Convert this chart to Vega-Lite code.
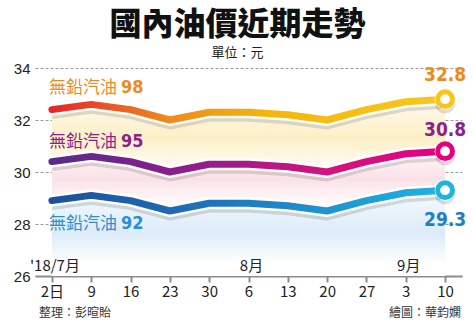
{
  "$schema": "https://vega.github.io/schema/vega-lite/v6.json",
  "width": 427,
  "height": 208,
  "autosize": {"type": "none"},
  "padding": {"left": 35, "top": 68, "right": 12, "bottom": 48},
  "background": "#ffffff",
  "title": {
    "text": "國內油價近期走勢",
    "subtitle": "單位：元",
    "anchor": "middle",
    "frame": "group",
    "dx": -11,
    "offset": 0,
    "font": "Noto Sans CJK TC",
    "fontSize": 32,
    "fontWeight": 900,
    "color": "#111111",
    "subtitleFont": "Noto Sans CJK TC",
    "subtitleFontSize": 13,
    "subtitleColor": "#222222",
    "subtitlePadding": 5
  },
  "config": {
    "view": {"stroke": null},
    "text": {"font": "Noto Sans CJK TC"}
  },
  "datasets": {
    "prices": [
      {"d": "7/2", "series": "98", "v": 32.4}, {"d": "7/9", "series": "98", "v": 32.6}, {"d": "7/16", "series": "98", "v": 32.4}, {"d": "7/23", "series": "98", "v": 32.0}, {"d": "7/30", "series": "98", "v": 32.3}, {"d": "8/6", "series": "98", "v": 32.3}, {"d": "8/13", "series": "98", "v": 32.2}, {"d": "8/20", "series": "98", "v": 32.0}, {"d": "8/27", "series": "98", "v": 32.4}, {"d": "9/3", "series": "98", "v": 32.7}, {"d": "9/10", "series": "98", "v": 32.8},
      {"d": "7/2", "series": "95", "v": 30.4}, {"d": "7/9", "series": "95", "v": 30.6}, {"d": "7/16", "series": "95", "v": 30.4}, {"d": "7/23", "series": "95", "v": 30.0}, {"d": "7/30", "series": "95", "v": 30.3}, {"d": "8/6", "series": "95", "v": 30.3}, {"d": "8/13", "series": "95", "v": 30.2}, {"d": "8/20", "series": "95", "v": 30.0}, {"d": "8/27", "series": "95", "v": 30.4}, {"d": "9/3", "series": "95", "v": 30.7}, {"d": "9/10", "series": "95", "v": 30.8},
      {"d": "7/2", "series": "92", "v": 28.9}, {"d": "7/9", "series": "92", "v": 29.1}, {"d": "7/16", "series": "92", "v": 28.9}, {"d": "7/23", "series": "92", "v": 28.5}, {"d": "7/30", "series": "92", "v": 28.8}, {"d": "8/6", "series": "92", "v": 28.8}, {"d": "8/13", "series": "92", "v": 28.7}, {"d": "8/20", "series": "92", "v": 28.5}, {"d": "8/27", "series": "92", "v": 28.9}, {"d": "9/3", "series": "92", "v": 29.2}, {"d": "9/10", "series": "92", "v": 29.3}
    ],
    "months": [
      {"d": "7/2", "m": "'18/7月"},
      {"d": "8/6", "m": "8月"},
      {"d": "9/3", "m": "9月"}
    ]
  },
  "data": {"name": "prices"},
  "encoding": {
    "x": {
      "field": "d",
      "type": "ordinal",
      "sort": ["7/2", "7/9", "7/16", "7/23", "7/30", "8/6", "8/13", "8/20", "8/27", "9/3", "9/10"],
      "scale": {"type": "point", "padding": 0.43},
      "axis": {
        "title": null,
        "domainColor": "#8c8c8c",
        "domainWidth": 2,
        "tickColor": "#8c8c8c",
        "tickWidth": 2,
        "tickSize": 6,
        "labelAngle": 0,
        "labelFont": "Noto Sans CJK TC",
        "labelFontSize": 15,
        "labelColor": "#222222",
        "labelPadding": 2,
        "labelExpr": "datum.value == '7/2' ? '2日' : split(datum.value, '/')[1]"
      }
    }
  },
  "layer": [
    {
      "transform": [{"filter": "datum.series == '98'"}],
      "mark": {"type": "area", "color": {"gradient": "linear", "x1": 0, "y1": 0, "x2": 0, "y2": 1, "stops": [{"offset": 0, "color": "#fffaf0"}, {"offset": 0.22, "color": "#fcefc6"}, {"offset": 0.42, "color": "#ffffff"}]}},
      "encoding": {
        "y": {"field": "v", "type": "quantitative", "scale": {"domain": [26, 34], "nice": false, "zero": false},
          "axis": {"title": null, "values": [26, 28, 30, 32, 34], "domain": false, "ticks": false, "grid": true, "gridDash": [3, 2], "gridColor": "#9a9a9a", "gridWidth": 1, "labelFont": "Liberation Sans", "labelFontSize": 15, "labelColor": "#222222", "labelPadding": 5}},
        "y2": {"datum": 26}
      }
    },
    {
      "transform": [{"filter": "datum.series == '95'"}],
      "mark": {"type": "area", "color": {"gradient": "linear", "x1": 0, "y1": 0, "x2": 0, "y2": 1, "stops": [{"offset": 0, "color": "#fff8fa"}, {"offset": 0.22, "color": "#fae1e7"}, {"offset": 0.45, "color": "#ffffff"}]}},
      "encoding": {"y": {"field": "v", "type": "quantitative"}, "y2": {"datum": 26}}
    },
    {
      "transform": [{"filter": "datum.series == '92'"}],
      "mark": {"type": "area", "color": {"gradient": "linear", "x1": 0, "y1": 0, "x2": 0, "y2": 1, "stops": [{"offset": 0, "color": "#f6fbff"}, {"offset": 0.5, "color": "#dcebf8"}, {"offset": 0.86, "color": "#ffffff"}]}},
      "encoding": {"y": {"field": "v", "type": "quantitative"}, "y2": {"datum": 26}}
    },
    {
      "mark": {"type": "line", "color": "#000000", "opacity": 0.13, "strokeWidth": 9, "yOffset": 5, "strokeJoin": "round"},
      "encoding": {"y": {"field": "v", "type": "quantitative"}, "detail": {"field": "series"}}
    },
    {
      "mark": {"type": "line", "color": "#ffffff", "strokeWidth": 12, "strokeJoin": "round", "strokeCap": "round"},
      "encoding": {"y": {"field": "v", "type": "quantitative"}, "detail": {"field": "series"}}
    },
    {
      "transform": [{"filter": "datum.series == '98'"}],
      "mark": {"type": "line", "strokeWidth": 7, "strokeJoin": "round", "strokeCap": "round", "color": {"gradient": "linear", "x1": 0, "y1": 0, "x2": 1, "y2": 0, "stops": [{"offset": 0, "color": "#e5262c"}, {"offset": 0.3, "color": "#f08a1c"}, {"offset": 0.55, "color": "#f6b50a"}, {"offset": 1, "color": "#f8c81c"}]}},
      "encoding": {"y": {"field": "v", "type": "quantitative"}}
    },
    {
      "transform": [{"filter": "datum.series == '95'"}],
      "mark": {"type": "line", "strokeWidth": 7, "strokeJoin": "round", "strokeCap": "round", "color": {"gradient": "linear", "x1": 0, "y1": 0, "x2": 1, "y2": 0, "stops": [{"offset": 0, "color": "#5a2a88"}, {"offset": 0.4, "color": "#961c8c"}, {"offset": 0.7, "color": "#d4137f"}, {"offset": 1, "color": "#e5007f"}]}},
      "encoding": {"y": {"field": "v", "type": "quantitative"}}
    },
    {
      "transform": [{"filter": "datum.series == '92'"}],
      "mark": {"type": "line", "strokeWidth": 7, "strokeJoin": "round", "strokeCap": "round", "color": {"gradient": "linear", "x1": 0, "y1": 0, "x2": 1, "y2": 0, "stops": [{"offset": 0, "color": "#1d4f9c"}, {"offset": 0.4, "color": "#1f72bd"}, {"offset": 1, "color": "#1fb5e3"}]}},
      "encoding": {"y": {"field": "v", "type": "quantitative"}}
    },
    {
      "transform": [{"filter": "datum.d == '9/10'"}],
      "mark": {"type": "point", "shape": "circle", "filled": true, "color": "#000000", "opacity": 0.13, "size": 420, "yOffset": 4},
      "encoding": {"y": {"field": "v", "type": "quantitative"}}
    },
    {
      "transform": [{"filter": "datum.d == '9/10'"}],
      "mark": {"type": "point", "shape": "circle", "filled": true, "color": "#ffffff", "opacity": 1, "size": 440},
      "encoding": {"y": {"field": "v", "type": "quantitative"}}
    },
    {
      "transform": [{"filter": "datum.d == '9/10'"}],
      "mark": {"type": "point", "shape": "circle", "filled": false, "fill": "#ffffff", "fillOpacity": 1, "opacity": 1, "strokeWidth": 5, "size": 220},
      "encoding": {
        "y": {"field": "v", "type": "quantitative"},
        "stroke": {"field": "series", "type": "nominal", "scale": {"domain": ["98", "95", "92"], "range": ["#f8c61a", "#e5007f", "#1fb3e2"]}, "legend": null}
      }
    },
    {
      "transform": [{"filter": "datum.d == '7/2' && datum.series == '98'"}],
      "mark": {"type": "text", "align": "left", "baseline": "middle", "dx": -3, "dy": -22, "fontSize": 17, "font": "Noto Sans CJK TC", "text": "無鉛汽油", "color": "#f08a1c"},
      "encoding": {"y": {"field": "v", "type": "quantitative"}}
    },
    {
      "transform": [{"filter": "datum.d == '7/2' && datum.series == '98'"}],
      "mark": {"type": "text", "align": "left", "baseline": "middle", "dx": 69, "dy": -22, "fontSize": 18, "fontWeight": "bold", "font": "DejaVu Sans Condensed", "color": "#f08a1c"},
      "encoding": {"y": {"field": "v", "type": "quantitative"}, "text": {"field": "series"}}
    },
    {
      "transform": [{"filter": "datum.d == '7/2' && datum.series == '95'"}],
      "mark": {"type": "text", "align": "left", "baseline": "middle", "dx": -3, "dy": -20, "fontSize": 17, "font": "Noto Sans CJK TC", "text": "無鉛汽油", "color": "#8e1f8e"},
      "encoding": {"y": {"field": "v", "type": "quantitative"}}
    },
    {
      "transform": [{"filter": "datum.d == '7/2' && datum.series == '95'"}],
      "mark": {"type": "text", "align": "left", "baseline": "middle", "dx": 69, "dy": -20, "fontSize": 18, "fontWeight": "bold", "font": "DejaVu Sans Condensed", "color": "#8e1f8e"},
      "encoding": {"y": {"field": "v", "type": "quantitative"}, "text": {"field": "series"}}
    },
    {
      "transform": [{"filter": "datum.d == '7/2' && datum.series == '92'"}],
      "mark": {"type": "text", "align": "left", "baseline": "middle", "dx": -3, "dy": 23, "fontSize": 17, "font": "Noto Sans CJK TC", "text": "無鉛汽油", "color": "#2b8fd2"},
      "encoding": {"y": {"field": "v", "type": "quantitative"}}
    },
    {
      "transform": [{"filter": "datum.d == '7/2' && datum.series == '92'"}],
      "mark": {"type": "text", "align": "left", "baseline": "middle", "dx": 69, "dy": 23, "fontSize": 18, "fontWeight": "bold", "font": "DejaVu Sans Condensed", "color": "#2b8fd2"},
      "encoding": {"y": {"field": "v", "type": "quantitative"}, "text": {"field": "series"}}
    },
    {
      "transform": [{"filter": "datum.d == '9/10' && datum.series == '98'"}],
      "mark": {"type": "text", "align": "center", "baseline": "middle", "dy": -24, "fontSize": 19, "fontWeight": "bold", "font": "DejaVu Sans Condensed", "color": "#f08a1c"},
      "encoding": {"y": {"field": "v", "type": "quantitative"}, "text": {"field": "v", "format": ".1f"}}
    },
    {
      "transform": [{"filter": "datum.d == '9/10' && datum.series == '95'"}],
      "mark": {"type": "text", "align": "center", "baseline": "middle", "dy": -21, "fontSize": 19, "fontWeight": "bold", "font": "DejaVu Sans Condensed", "color": "#8e1f8e"},
      "encoding": {"y": {"field": "v", "type": "quantitative"}, "text": {"field": "v", "format": ".1f"}}
    },
    {
      "transform": [{"filter": "datum.d == '9/10' && datum.series == '92'"}],
      "mark": {"type": "text", "align": "center", "baseline": "middle", "dy": 30, "fontSize": 19, "fontWeight": "bold", "font": "DejaVu Sans Condensed", "color": "#1f7fc4"},
      "encoding": {"y": {"field": "v", "type": "quantitative"}, "text": {"field": "v", "format": ".1f"}}
    },
    {
      "data": {"name": "months"},
      "mark": {"type": "text", "align": "center", "baseline": "bottom", "dx": 3, "dy": -2, "fontSize": 15, "font": "Noto Sans CJK TC", "color": "#222222"},
      "encoding": {"y": {"datum": 26}, "text": {"field": "m"}}
    },
    {
      "data": {"values": [{"d": "7/2", "t": "整理：彭暄貽"}]},
      "mark": {"type": "text", "align": "left", "baseline": "middle", "dx": -13, "dy": 37, "fontSize": 12, "font": "Noto Sans CJK TC", "color": "#333333"},
      "encoding": {"y": {"datum": 26}, "text": {"field": "t"}}
    },
    {
      "data": {"values": [{"d": "9/10", "t": "繪圖：華鈞嫻"}]},
      "mark": {"type": "text", "align": "right", "baseline": "middle", "dx": 16, "dy": 37, "fontSize": 12, "font": "Noto Sans CJK TC", "color": "#333333"},
      "encoding": {"y": {"datum": 26}, "text": {"field": "t"}}
    }
  ]
}
